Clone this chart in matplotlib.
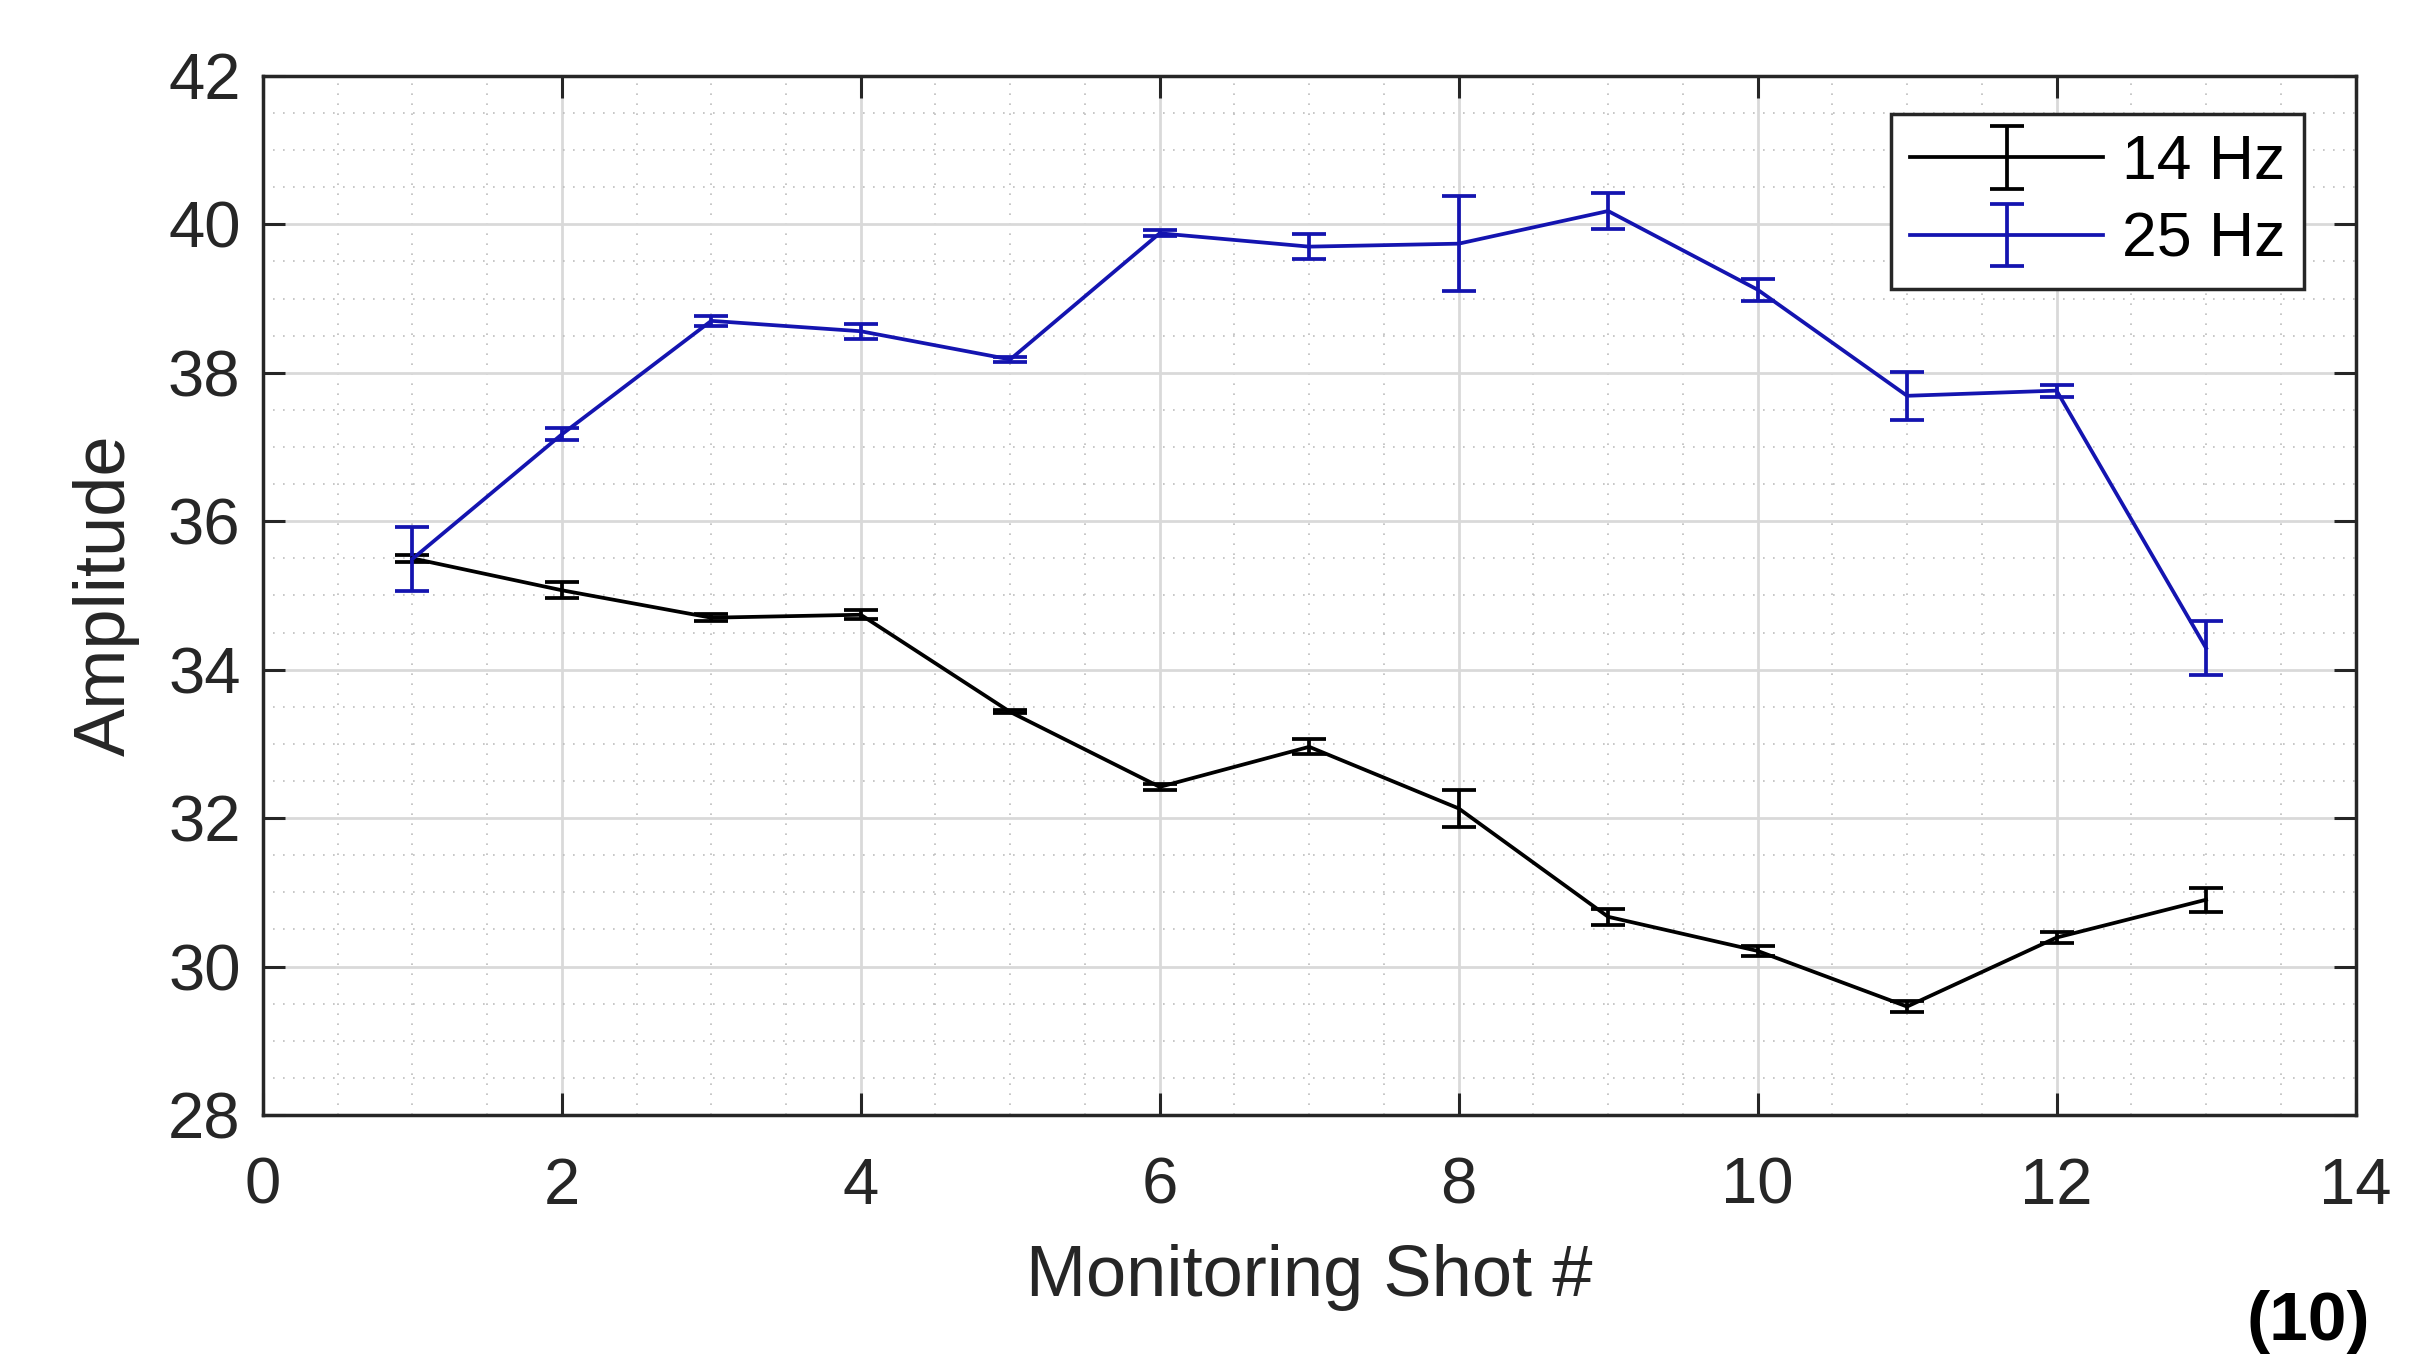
import matplotlib
matplotlib.use("Agg")
import matplotlib.pyplot as plt
from matplotlib.ticker import MultipleLocator

shots = [1, 2, 3, 4, 5, 6, 7, 8, 9, 10, 11, 12, 13]
amp_14 = [35.50, 35.07, 34.70, 34.74, 33.43, 32.42, 32.96, 32.13, 30.67, 30.21, 29.46, 30.39, 30.90]
err_14 = [0.05, 0.11, 0.05, 0.06, 0.02, 0.045, 0.10, 0.25, 0.11, 0.07, 0.07, 0.07, 0.16]
amp_25 = [35.49, 37.17, 38.70, 38.56, 38.18, 39.88, 39.70, 39.74, 40.18, 39.12, 37.69, 37.76, 34.29]
err_25 = [0.43, 0.08, 0.07, 0.10, 0.03, 0.04, 0.17, 0.64, 0.24, 0.15, 0.32, 0.08, 0.36]
labels = ["14 Hz", "25 Hz"]

plt.rcParams['font.family'] = ['Liberation Sans', 'DejaVu Sans']
fig = plt.figure(figsize=(24.11, 13.61), dpi=100)
ax = fig.add_axes([0.109, 0.1808, 0.868, 0.7634])

blue = '#1414b0'
dark = '#262626'
lw = 2.7
ax.errorbar(shots, amp_14, yerr=err_14, color='black', lw=lw, capsize=12, capthick=lw,
            elinewidth=lw, label=labels[0], zorder=3)
ax.errorbar(shots, amp_25, yerr=err_25, color=blue, lw=lw, capsize=12, capthick=lw,
            elinewidth=lw, label=labels[1], zorder=3)

ax.set_xlim(0, 14)
ax.set_ylim(28, 42)
ax.xaxis.set_major_locator(MultipleLocator(2))
ax.yaxis.set_major_locator(MultipleLocator(2))
ax.xaxis.set_minor_locator(MultipleLocator(0.5))
ax.yaxis.set_minor_locator(MultipleLocator(0.5))

ax.grid(which='major', color='#d9d9d9', lw=2.0, ls='-', zorder=0)
ax.grid(which='minor', color='#bdbdbd', lw=1.2, ls=(0, (1, 5)), zorder=0)
ax.set_axisbelow(True)

ax.tick_params(which='major', direction='in', length=16, width=2.2, color=dark,
               top=True, right=True, labelsize=47, labelcolor=dark)
ax.tick_params(axis='x', which='major', pad=30)
ax.tick_params(axis='y', which='major', pad=16)
ax.tick_params(which='minor', length=0, top=True, right=True)
for s in ax.spines.values():
    s.set_linewidth(2.5)
    s.set_color(dark)

ax.set_xlabel("Monitoring Shot #", fontsize=52, color=dark, labelpad=20)
ax.set_ylabel("Amplitude", fontsize=52, color=dark, labelpad=20)

leg = ax.legend(loc='upper right', bbox_to_anchor=(0.9755, 0.963), fontsize=45,
                frameon=True, fancybox=False, edgecolor=dark, framealpha=1,
                handlelength=3.1, borderpad=0.3, labelspacing=0.3, handletextpad=0.3,
                borderaxespad=0)
leg.get_frame().set_linewidth(2.5)

fig.text(0.983, 0.005, "(10)", fontsize=50, fontweight='bold', ha='right', va='bottom', color='black')

fig.savefig("out.png", dpi=100, facecolor='white')
